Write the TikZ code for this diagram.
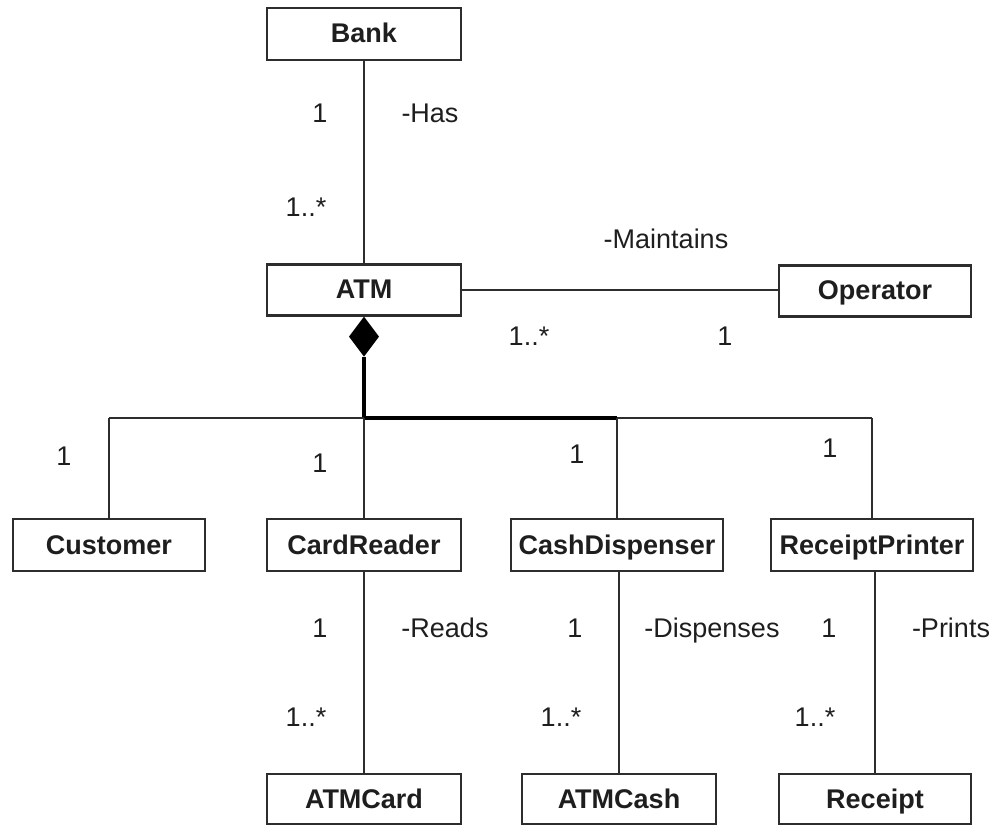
\documentclass[tikz,border=0pt]{standalone}
\usepackage{fontspec}
\setmainfont{Liberation Sans}
\usetikzlibrary{calc}
\definecolor{ink}{RGB}{30,30,30}
\definecolor{edge}{RGB}{45,45,45}
\begin{document}
\begin{tikzpicture}[x=1pt,y=-1pt,
  cls/.style={draw=edge,line width=2.3pt,fill=white,inner sep=0pt,minimum height=51pt,
    text height=21pt,text depth=3pt,
    font=\fontsize{27}{30}\selectfont\bfseries,text=ink},
  lbl/.style={inner sep=0pt,text height=21pt,text depth=3pt,font=\fontsize{27}{30}\selectfont,text=ink},
  conn/.style={draw=edge,line width=2pt},
  thick conn/.style={draw=black,line width=3.4pt}]
\useasboundingbox (0,0) rectangle (997,826);
% classes
\node[cls,minimum width=194pt,minimum height=52pt] (Bank) at (364,34) {Bank};
\node[cls,minimum width=194pt] (ATM) at (364,290) {ATM};
\node[cls,minimum width=192pt] (Operator) at (875,291) {Operator};
\node[cls,minimum width=192pt,minimum height=52pt] (Customer) at (109,545) {Customer};
\node[cls,minimum width=194pt,minimum height=52pt] (CardReader) at (364,545) {CardReader};
\node[cls,minimum width=212pt,minimum height=52pt] (CashDispenser) at (617,545) {CashDispenser};
\node[cls,minimum width=202pt,minimum height=52pt] (ReceiptPrinter) at (872,545) {ReceiptPrinter};
\node[cls,minimum width=194pt,minimum height=50pt] (ATMCard) at (364,799) {ATMCard};
\node[cls,minimum width=194pt,minimum height=50pt] (ATMCash) at (619,799) {ATMCash};
\node[cls,minimum width=192pt,minimum height=50pt] (Receipt) at (875,799) {Receipt};
% associations
\draw[conn] (Bank.south) -- (ATM.north);
\draw[conn] (ATM.east) -- (Operator.west |- ATM.east);
\draw[conn] (CardReader.south) -- (ATMCard.north);
\draw[conn] (ATMCash.north |- CashDispenser.south) -- (ATMCash.north);
\draw[conn] (Receipt.north |- ReceiptPrinter.south) -- (Receipt.north);
% composition
\coordinate (dtip) at ($(ATM.south)+(0,40)$);
\coordinate (bus) at (364,418);
\fill[black] (ATM.south) -- ++(-15,20) -- ++(15,20) -- ++(15,-20) -- cycle;
\draw[thick conn] (dtip) -- (bus);
\draw[conn,line width=2.4pt] (Customer.north |- bus) -- (ReceiptPrinter.north |- bus);
\draw[thick conn] (bus) -- (CashDispenser.north |- bus);
\draw[conn] (Customer.north) -- (Customer.north |- bus);
\draw[conn] (CardReader.north) -- (bus);
\draw[conn] (CashDispenser.north) -- (CashDispenser.north |- bus);
\draw[conn] (ReceiptPrinter.north) -- (ReceiptPrinter.north |- bus);
% labels
\node[lbl] (m1) at (320,114) {1};
\node[lbl] (has) at (430,114) {-Has};
\node[lbl] (m2) at (306,208) {1..*};
\node[lbl] (maint) at (666,240) {-Maintains};
\node[lbl] (m3) at (529,337) {1..*};
\node[lbl] (m4) at (725,337) {1};
\node[lbl] (m5) at (64,457) {1};
\node[lbl] (m6) at (320,464) {1};
\node[lbl] (m7) at (577,455) {1};
\node[lbl] (m8) at (830,448) {1};
\node[lbl] (m9) at (320,628) {1};
\node[lbl] (reads) at (445,628) {-Reads};
\node[lbl] (m10) at (575,628) {1};
\node[lbl] (disp) at (712,628) {-Dispenses};
\node[lbl] (m11) at (829,628) {1};
\node[lbl] (prints) at (951,628) {-Prints};
\node[lbl] (m12) at (306,717) {1..*};
\node[lbl] (m13) at (561,717) {1..*};
\node[lbl] (m14) at (815,717) {1..*};
\end{tikzpicture}
\end{document}
